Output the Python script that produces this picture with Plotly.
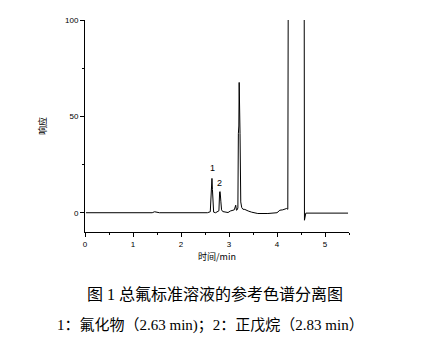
import plotly.graph_objects as go

# Chromatogram: retention time (min) and response
time_min = [
    0.02, 0.5, 1.0, 1.40, 1.45, 1.50, 1.55, 2.0, 2.55,          # baseline
    2.61, 2.63, 2.645, 2.655, 2.665, 2.68,                      # peak 1
    2.72, 2.76, 2.79, 2.805, 2.815, 2.83, 2.845, 2.87,          # peak 2
    2.92, 2.98, 3.03, 3.07, 3.11, 3.14, 3.155, 3.17, 3.185,     # small bumps
    3.195, 3.205, 3.212, 3.22, 3.23, 3.245,                     # main peak
    3.265, 3.29, 3.33, 3.40, 3.47, 3.60, 3.81, 4.00,            # tail
    4.06, 4.12, 4.20, 4.225, 4.237, 4.40, 4.565,                # solvent peak
    4.572, 4.585, 4.60, 5.00, 5.48,                             # after solvent
]
response = [
    0, 0, 0, 0, 0.5, 0.4, 0, 0, 0,
    0.5, 9, 17.8, 12, 2, 0.3,
    0, 0.4, 1, 10.8, 11, 6, 1.5, 0.6,
    0.2, 0.1, 0.9, 1.2, 1.5, 3.9, 1.3, 1.5, 2.5,
    41, 45, 67.6, 60, 41, 5.6,
    2.7, 1.8, 1.7, 0.9, 0.3, -0.4, -0.4, 0,
    1.3, 1.5, 2.2, 1.8, 150, 150, 150,
    -3.9, -0.4, -0.2, -0.2, -0.2,
]

peak_labels = ["1", "2"]
peak_label_t = [2.646, 2.806]
peak_label_y = [23, 15.2]

x_ticks = [0, 1, 2, 3, 4, 5]
y_ticks = [0, 50, 100]

caption_1 = "图 1 总氟标准溶液的参考色谱分离图"
caption_2 = "1：氟化物（2.63 min)；2：正戊烷（2.83 min）"

fig = go.Figure()
fig.add_trace(go.Scatter(x=time_min, y=response, mode="lines",
                         line=dict(color="black", width=1), showlegend=False,
                         hoverinfo="skip"))

for lab, t, v in zip(peak_labels, peak_label_t, peak_label_y):
    fig.add_annotation(x=t, y=v, xref="x", yref="y", text=lab, showarrow=False,
                       font=dict(family="Liberation Sans", size=9, color="black"))

tick_font = dict(family="Liberation Sans", size=8, color="black")
fig.update_xaxes(range=[0, 5.5], tickvals=x_ticks, ticks="outside", ticklen=4,
                 tickcolor="black", showline=True, linecolor="black", linewidth=1,
                 showgrid=False, zeroline=False, tickfont=tick_font,
                 minor=dict(dtick=0.5, tick0=0, ticks="outside", ticklen=2,
                            tickcolor="black", showgrid=False),
                 title=dict(text="时间/min", standoff=6,
                            font=dict(family="Noto Sans CJK SC", size=9, color="black")))
fig.update_yaxes(range=[-10, 100], tickvals=y_ticks, ticks="outside", ticklen=4,
                 tickcolor="black", showline=True, linecolor="black", linewidth=1,
                 showgrid=False, zeroline=False, tickfont=tick_font,
                 minor=dict(dtick=25, tick0=0, ticks="outside", ticklen=2,
                            tickcolor="black", showgrid=False),
                 title=dict(text="响应", standoff=16,
                            font=dict(family="Noto Sans CJK SC", size=9, color="black")))

fig.add_annotation(x=0.492, y=-0.297, xref="paper", yref="paper", text=caption_1,
                   showarrow=False, xanchor="center", yanchor="middle",
                   font=dict(family="Liberation Serif, Noto Sans CJK SC", size=16, color="black"))
fig.add_annotation(x=0.477, y=-0.4387, xref="paper", yref="paper", text=caption_2,
                   showarrow=False, xanchor="center", yanchor="middle",
                   font=dict(family="Liberation Serif, Noto Sans CJK SC", size=15, color="black"))

fig.update_layout(width=442, height=352,
                  margin=dict(l=85, r=93, t=20, b=120),
                  plot_bgcolor="white", paper_bgcolor="white")

fig.write_html("out.html")
